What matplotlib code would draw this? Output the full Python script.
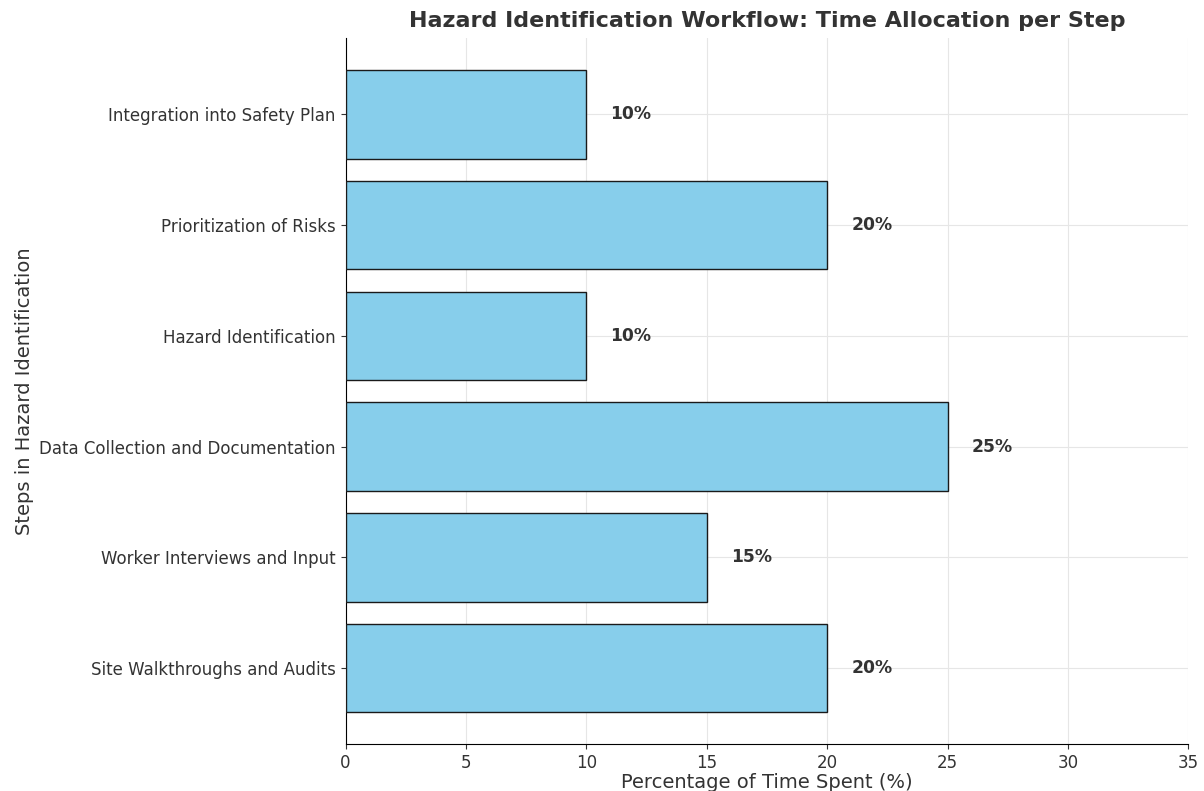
import matplotlib.pyplot as plt

plt.rcParams['font.family'] = ['DejaVu Sans']

# Workflow steps and share of time (%)
steps = [
    "Site Walkthroughs and Audits",
    "Worker Interviews and Input",
    "Data Collection and Documentation",
    "Hazard Identification",
    "Prioritization of Risks",
    "Integration into Safety Plan",
]
time_pct = [20, 15, 25, 10, 20, 10]

fig, ax = plt.subplots(figsize=(12.04, 7.91), dpi=100)
fig.subplots_adjust(left=0.287, right=0.987, top=0.952, bottom=0.059)

ax.barh(steps, time_pct, color="skyblue", edgecolor="#1a1a1a", height=0.8, zorder=3)

for i, v in enumerate(time_pct):
    ax.text(v + 1, i, f"{v}%", va="center", ha="left", fontsize=12.3,
            fontweight="bold", color="#333333")

ax.set_xlim(0, 35)
ax.set_title("Hazard Identification Workflow: Time Allocation per Step",
             fontsize=16, fontweight="bold", color="#333333", pad=8)
ax.set_xlabel("Percentage of Time Spent (%)", fontsize=14, color="#333333", labelpad=1)
ax.set_ylabel("Steps in Hazard Identification", fontsize=14, color="#333333")
ax.tick_params(axis="both", labelsize=12, colors="#333333")
ax.grid(True, color="#e6e6e6", linewidth=0.8, zorder=0)
ax.spines["top"].set_visible(False)
ax.spines["right"].set_visible(False)

fig.savefig("out.png", dpi=100)
